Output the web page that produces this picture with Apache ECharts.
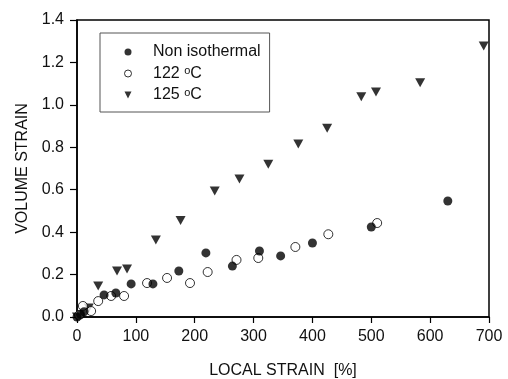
<!DOCTYPE html>
<html>
<head>
<meta charset="utf-8">
<script src="https://cdn.jsdelivr.net/npm/echarts@6/dist/echarts.min.js"></script>
<style>html,body{margin:0;padding:0;background:#fff}#c{width:508px;height:379px}</style>
</head>
<body>
<div id="c"></div>
<script>
var seriesNames = ['Non isothermal', '122 °C', '125 °C'];
var nonIsoX = [0, 6, 12, 46, 66, 92, 129, 173, 219, 264, 310, 346, 400, 500, 630];
var nonIsoY = [0, 0.012, 0.025, 0.104, 0.113, 0.156, 0.156, 0.217, 0.302, 0.24, 0.311, 0.288, 0.349, 0.424, 0.547];
var t122X = [4, 10, 24, 36, 58, 80, 119, 153, 192, 222, 271, 308, 371, 427, 510];
var t122Y = [0.01, 0.052, 0.028, 0.075, 0.099, 0.099, 0.16, 0.184, 0.16, 0.212, 0.269, 0.278, 0.33, 0.39, 0.443];
var t125X = [0, 20, 36, 68, 85, 134, 176, 234, 276, 325, 376, 425, 483, 508, 583, 691];
var t125Y = [0, 0.042, 0.146, 0.217, 0.226, 0.363, 0.455, 0.594, 0.65, 0.72, 0.816, 0.89, 1.038, 1.061, 1.104, 1.278];
var xTicks = { min: 0, max: 700, interval: 100 };
var yTicks = { min: 0, max: 1.4, interval: 0.2 };

function pairs(xs, ys) { return xs.map(function (x, i) { return [x, ys[i]]; }); }

var font = 'Liberation Sans, Arial, sans-serif';
var chart = echarts.init(document.getElementById('c'), null, { renderer: 'canvas' });
chart.setOption({
  animation: false,
  backgroundColor: '#fff',
  grid: { left: 77, right: 19, top: 20, bottom: 62, show: true, borderColor: '#000', borderWidth: 1.5, backgroundColor: 'transparent', containLabel: false, outerBoundsMode: 'none' },
  legend: {
    orient: 'vertical', left: 100, top: 33,
    padding: [11, 9, 9, 24],
    borderColor: '#555', borderWidth: 1,
    itemWidth: 40, itemHeight: 7, itemGap: 5.5,
    textStyle: {
      fontFamily: font, fontSize: 16, color: '#111', lineHeight: 16,
      rich: { sup: { fontSize: 11, verticalAlign: 'top', padding: [0, 0, 7, 0], fontFamily: font, color: '#111' }, n: { fontFamily: font, fontSize: 16, color: '#111' } }
    },
    formatter: function (name) {
      if (name.indexOf('°C') > -1) { return '{n|' + name.replace(' °C', ' ') + '}{sup|o}{n|C}'; }
      return name;
    },
    data: [
      { name: seriesNames[0], icon: 'circle', itemStyle: { color: '#000', borderWidth: 0 } },
      { name: seriesNames[1], icon: 'circle', itemStyle: { color: '#fff', borderColor: '#000', borderWidth: 1 } },
      { name: seriesNames[2], icon: 'path://M0,0 L10,0 L5,10 Z', itemStyle: { color: '#000', borderWidth: 0 } }
    ]
  },
  xAxis: {
    type: 'value', min: xTicks.min, max: xTicks.max, interval: xTicks.interval,
    name: 'LOCAL STRAIN  [%]', nameLocation: 'middle', nameGap: 46,
    nameTextStyle: { fontFamily: font, fontSize: 16, color: '#111' },
    axisLine: { lineStyle: { color: '#000', width: 1.5 } },
    axisTick: { inside: false, length: 6, lineStyle: { color: '#000', width: 1.2 } },
    axisLabel: { fontFamily: font, fontSize: 16, color: '#111', margin: 12 },
    splitLine: { show: false }
  },
  yAxis: {
    type: 'value', min: yTicks.min, max: yTicks.max, interval: yTicks.interval,
    name: 'VOLUME STRAIN', nameLocation: 'middle', nameGap: 46,
    nameTextStyle: { fontFamily: font, fontSize: 16, color: '#111' },
    axisLine: { lineStyle: { color: '#000', width: 1.5 } },
    axisTick: { inside: false, length: 7, lineStyle: { color: '#000', width: 1.2 } },
    axisLabel: { fontFamily: font, fontSize: 16, color: '#111', margin: 13, formatter: function (v) { return v.toFixed(1); } },
    splitLine: { show: false }
  },
  series: [
    { name: seriesNames[0], type: 'scatter', data: pairs(nonIsoX, nonIsoY), symbol: 'circle', symbolSize: 9, itemStyle: { color: '#000' }, z: 3 },
    { name: seriesNames[1], type: 'scatter', data: pairs(t122X, t122Y), symbol: 'circle', symbolSize: 9, itemStyle: { color: '#fff', borderColor: '#000', borderWidth: 1 }, z: 2 },
    { name: seriesNames[2], type: 'scatter', data: pairs(t125X, t125Y), symbol: 'path://M0,0 L10,0 L5,10 Z', symbolSize: [10, 9], itemStyle: { color: '#000' }, z: 1 }
  ]
});
</script>
</body>
</html>
